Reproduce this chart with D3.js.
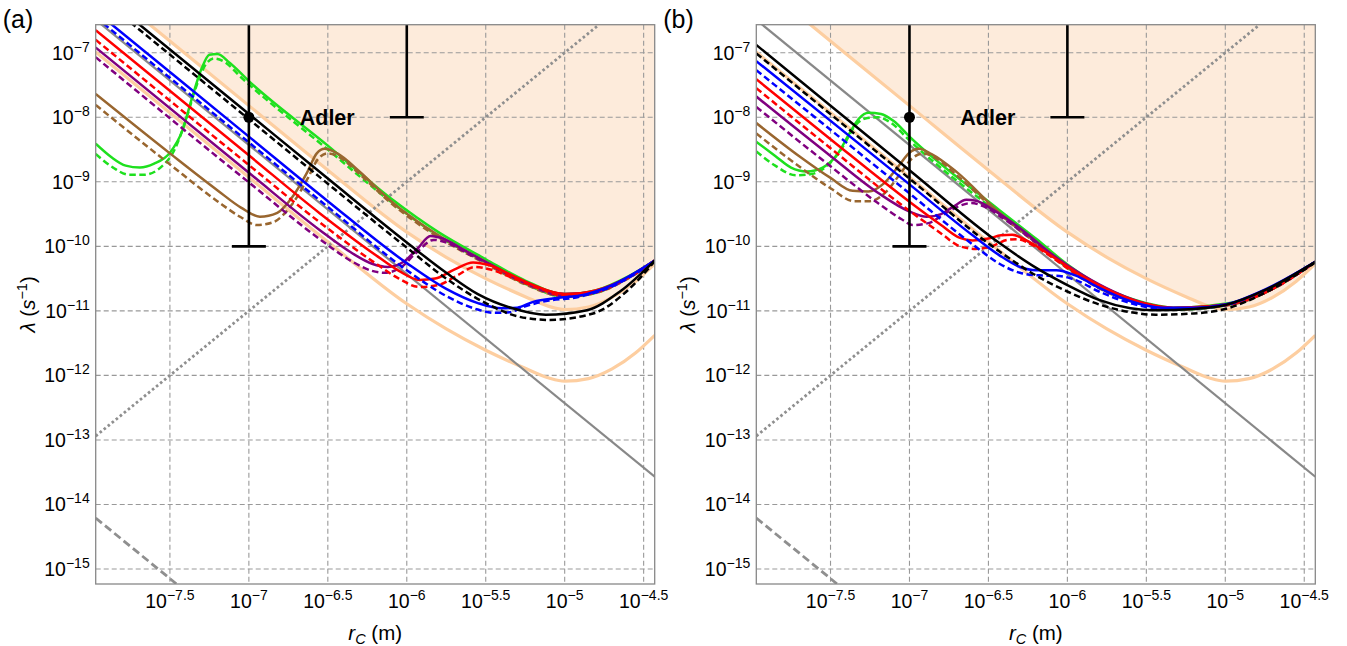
<!DOCTYPE html>
<html>
<head>
<meta charset="utf-8">
<script src="https://cdn.jsdelivr.net/npm/d3@7"></script>
<style>
  body { margin: 0; background: #fff; }
  text { font-family: "Liberation Sans", Arial, sans-serif; }
</style>
</head>
<body>
<script>
// all values are exponents: [log10 rC, log10 lambda]
var xTicks = [-7.5, -7, -6.5, -6, -5.5, -5, -4.5];
var yTicks = [-15, -14, -13, -12, -11, -10, -9, -8, -7];
var xDomain = [-7.97, -4.43];
var yDomain = [-15.232, -6.566];

// bounds shared by both panels
var orangeUpper = [[-7.66,-6.5],[-7,-7.82],[-6.5,-8.82],[-6,-9.78],[-5.75,-10.17],[-5.5,-10.5],[-5.25,-10.78],[-5.1,-10.93],[-5,-10.98],[-4.85,-10.94],[-4.7,-10.79],[-4.55,-10.54],[-4.43,-10.27]];
var orangeLower = [[-7.97,-6.99],[-7,-8.93],[-6.5,-9.93],[-6,-10.89],[-5.75,-11.28],[-5.5,-11.61],[-5.25,-11.89],[-5.1,-12.04],[-5,-12.09],[-4.85,-12.05],[-4.7,-11.9],[-4.55,-11.65],[-4.43,-11.38]];
var grayLine = [[-7.97,-6.49],[-4.43,-13.57]];
var grayDotted = [[-7.97,-12.94],[-4.783,-6.566]];
var grayDashed = [[-7.97,-14.21],[-7.458,-15.232]];
var adlerPoint = [-7, -8];
var adlerBars = [[-7, -10], [-6, -8]];

// panel (a)
var blackA = [[-7.75,-6.45],[-7,-7.95],[-6.5,-8.95],[-6,-9.94],[-5.75,-10.41],[-5.55,-10.74],[-5.33,-10.96],[-5.12,-11.06],[-4.86,-10.99],[-4.65,-10.7],[-4.43,-10.22]];
var blackDashA = [[-7.75,-6.53],[-7,-8.03],[-6.5,-9.03],[-6,-10.02],[-5.75,-10.5],[-5.5,-10.88],[-5.29,-11.09],[-5.1,-11.14],[-4.82,-11.04],[-4.6,-10.68],[-4.43,-10.23]];
var blueA = [[-7.9,-6.5],[-7,-8.3],[-6.5,-9.3],[-6,-10.26],[-5.75,-10.66],[-5.55,-10.88],[-5.4,-10.96],[-5.3,-10.95],[-5.2,-10.86],[-5.05,-10.8],[-4.9,-10.76],[-4.7,-10.6],[-4.43,-10.22]];
var blueDashA = [[-7.97,-6.45],[-7,-8.39],[-6.5,-9.39],[-6,-10.37],[-5.75,-10.77],[-5.55,-10.98],[-5.45,-11.03],[-5.35,-11.02],[-5.25,-10.93],[-5.1,-10.84],[-4.95,-10.8],[-4.7,-10.62],[-4.43,-10.23]];
var redA = [[-7.97,-6.65],[-7,-8.59],[-6.55,-9.49],[-6.2,-10.13],[-6.05,-10.38],[-5.92,-10.52],[-5.82,-10.5],[-5.7,-10.36],[-5.58,-10.25],[-5.48,-10.29],[-5.35,-10.43],[-5.2,-10.6],[-5,-10.74],[-4.8,-10.68],[-4.6,-10.48],[-4.43,-10.22]];
var redDashA = [[-7.97,-6.8],[-7,-8.74],[-6.55,-9.63],[-6.2,-10.26],[-6.05,-10.5],[-5.92,-10.63],[-5.8,-10.6],[-5.68,-10.45],[-5.57,-10.32],[-5.47,-10.36],[-5.32,-10.5],[-5.15,-10.66],[-5,-10.77],[-4.8,-10.71],[-4.6,-10.49],[-4.43,-10.23]];
var purpleA = [[-7.97,-6.92],[-7,-8.86],[-6.55,-9.75],[-6.35,-10.1],[-6.22,-10.27],[-6.12,-10.32],[-6.02,-10.24],[-5.93,-10.03],[-5.85,-9.84],[-5.77,-9.88],[-5.65,-10.04],[-5.5,-10.24],[-5.25,-10.55],[-5,-10.74],[-4.8,-10.69],[-4.6,-10.48],[-4.43,-10.22]];
var purpleDashA = [[-7.97,-7.07],[-7,-9.01],[-6.55,-9.89],[-6.35,-10.23],[-6.22,-10.38],[-6.14,-10.41],[-6.04,-10.33],[-5.94,-10.1],[-5.83,-9.9],[-5.74,-9.95],[-5.6,-10.13],[-5.45,-10.32],[-5.25,-10.57],[-5,-10.77],[-4.8,-10.71],[-4.6,-10.49],[-4.43,-10.23]];
var brownA = [[-7.97,-7.64],[-7.5,-8.56],[-7.2,-9.13],[-7.05,-9.4],[-6.93,-9.54],[-6.82,-9.48],[-6.72,-9.22],[-6.63,-8.85],[-6.57,-8.56],[-6.52,-8.49],[-6.44,-8.56],[-6.3,-8.84],[-6.1,-9.3],[-5.8,-9.83],[-5.5,-10.24],[-5.25,-10.57],[-5,-10.76],[-4.8,-10.7],[-4.6,-10.49],[-4.43,-10.22]];
var brownDashA = [[-7.97,-7.81],[-7.5,-8.73],[-7.2,-9.3],[-7.05,-9.55],[-6.95,-9.67],[-6.85,-9.63],[-6.73,-9.36],[-6.63,-8.96],[-6.56,-8.64],[-6.5,-8.56],[-6.42,-8.63],[-6.3,-8.88],[-6.1,-9.33],[-5.8,-9.86],[-5.5,-10.27],[-5.25,-10.59],[-5,-10.78],[-4.8,-10.72],[-4.6,-10.5],[-4.43,-10.23]];
var greenA = [[-7.97,-8.41],[-7.87,-8.62],[-7.78,-8.75],[-7.69,-8.78],[-7.6,-8.72],[-7.5,-8.55],[-7.42,-8.2],[-7.36,-7.7],[-7.3,-7.25],[-7.25,-7.03],[-7.2,-7.02],[-7.12,-7.16],[-7,-7.44],[-6.5,-8.44],[-6.1,-9.26],[-5.8,-9.78],[-5.5,-10.2],[-5.25,-10.53],[-5,-10.74],[-4.8,-10.68],[-4.6,-10.47],[-4.43,-10.22]];
var greenDashA = [[-7.97,-8.57],[-7.86,-8.78],[-7.76,-8.89],[-7.66,-8.89],[-7.56,-8.78],[-7.47,-8.5],[-7.4,-8.05],[-7.33,-7.5],[-7.27,-7.17],[-7.22,-7.09],[-7.15,-7.15],[-7.05,-7.38],[-6.5,-8.5],[-6.1,-9.31],[-5.8,-9.84],[-5.5,-10.25],[-5.25,-10.58],[-5,-10.78],[-4.8,-10.72],[-4.6,-10.49],[-4.43,-10.23]];

// panel (b)
var blackB = [[-7.97,-6.88],[-7,-8.82],[-6.43,-9.95],[-6.2,-10.33],[-6,-10.6],[-5.8,-10.83],[-5.6,-10.96],[-5.45,-10.99],[-5.2,-10.97],[-5,-10.91],[-4.75,-10.68],[-4.43,-10.24]];
var blackDashB = [[-7.97,-7.01],[-7,-8.95],[-6.43,-10.08],[-6.2,-10.45],[-6,-10.7],[-5.8,-10.9],[-5.6,-11.02],[-5.44,-11.06],[-5.2,-11.04],[-5,-10.97],[-4.75,-10.72],[-4.43,-10.25]];
var blueB = [[-7.97,-7.13],[-7,-9.04],[-6.6,-9.83],[-6.43,-10.14],[-6.3,-10.32],[-6.2,-10.37],[-6.07,-10.37],[-5.95,-10.45],[-5.8,-10.64],[-5.6,-10.85],[-5.4,-10.95],[-5.2,-10.95],[-5,-10.9],[-4.75,-10.67],[-4.43,-10.24]];
var blueDashB = [[-7.97,-7.27],[-7,-9.18],[-6.6,-9.97],[-6.43,-10.27],[-6.3,-10.41],[-6.18,-10.45],[-6.05,-10.46],[-5.95,-10.52],[-5.8,-10.7],[-5.6,-10.88],[-5.4,-10.97],[-5.2,-10.96],[-5,-10.91],[-4.75,-10.68],[-4.43,-10.24]];
var redB = [[-7.97,-7.41],[-7.5,-8.34],[-7,-9.31],[-6.8,-9.67],[-6.68,-9.87],[-6.6,-9.91],[-6.5,-9.88],[-6.42,-9.83],[-6.35,-9.82],[-6.25,-9.92],[-6.1,-10.15],[-5.9,-10.47],[-5.7,-10.72],[-5.5,-10.89],[-5.33,-10.95],[-5.1,-10.93],[-4.9,-10.85],[-4.7,-10.65],[-4.43,-10.24]];
var redDashB = [[-7.97,-7.55],[-7.5,-8.48],[-7,-9.45],[-6.8,-9.8],[-6.68,-10],[-6.58,-10.04],[-6.48,-10],[-6.38,-9.9],[-6.32,-9.89],[-6.22,-9.98],[-6.08,-10.2],[-5.9,-10.5],[-5.7,-10.74],[-5.5,-10.9],[-5.33,-10.97],[-5.1,-10.94],[-4.9,-10.86],[-4.7,-10.66],[-4.43,-10.24]];
var purpleB = [[-7.97,-7.68],[-7.5,-8.6],[-7.2,-9.17],[-7,-9.46],[-6.89,-9.54],[-6.8,-9.5],[-6.72,-9.38],[-6.64,-9.28],[-6.57,-9.3],[-6.48,-9.42],[-6.3,-9.72],[-6.1,-10.12],[-5.9,-10.45],[-5.7,-10.71],[-5.5,-10.89],[-5.33,-10.96],[-5.1,-10.93],[-4.9,-10.85],[-4.7,-10.65],[-4.43,-10.24]];
var purpleDashB = [[-7.97,-7.84],[-7.5,-8.76],[-7.2,-9.33],[-7.05,-9.58],[-6.98,-9.67],[-6.88,-9.64],[-6.78,-9.5],[-6.68,-9.37],[-6.61,-9.33],[-6.53,-9.38],[-6.4,-9.58],[-6.2,-9.94],[-6,-10.32],[-5.75,-10.7],[-5.5,-10.9],[-5.33,-10.97],[-5.1,-10.94],[-4.9,-10.86],[-4.7,-10.66],[-4.43,-10.24]];
var brownB = [[-7.97,-8.09],[-7.7,-8.6],[-7.5,-8.94],[-7.36,-9.14],[-7.26,-9.15],[-7.16,-9.02],[-7.07,-8.76],[-7,-8.55],[-6.94,-8.49],[-6.86,-8.57],[-6.7,-8.85],[-6.43,-9.48],[-6.2,-9.92],[-6,-10.32],[-5.75,-10.7],[-5.5,-10.9],[-5.33,-10.97],[-5.1,-10.94],[-4.9,-10.86],[-4.7,-10.66],[-4.43,-10.24]];
var brownDashB = [[-7.97,-8.25],[-7.7,-8.76],[-7.5,-9.1],[-7.35,-9.3],[-7.25,-9.3],[-7.15,-9.16],[-7.06,-8.88],[-6.98,-8.63],[-6.91,-8.56],[-6.83,-8.64],[-6.7,-8.9],[-6.43,-9.5],[-6.2,-9.95],[-6,-10.34],[-5.75,-10.71],[-5.5,-10.91],[-5.33,-10.98],[-5.1,-10.95],[-4.9,-10.87],[-4.7,-10.66],[-4.43,-10.24]];
var greenB = [[-7.97,-8.38],[-7.85,-8.6],[-7.75,-8.78],[-7.65,-8.84],[-7.55,-8.78],[-7.45,-8.55],[-7.38,-8.25],[-7.32,-8.02],[-7.26,-7.93],[-7.18,-7.95],[-7.1,-8.06],[-7,-8.3],[-6.43,-9.44],[-6.2,-9.88],[-6,-10.28],[-5.75,-10.66],[-5.5,-10.88],[-5.33,-10.95],[-5.1,-10.92],[-4.9,-10.84],[-4.7,-10.64],[-4.43,-10.24]];
var greenDashB = [[-7.97,-8.53],[-7.85,-8.75],[-7.72,-8.9],[-7.62,-8.88],[-7.52,-8.75],[-7.42,-8.45],[-7.35,-8.15],[-7.28,-8.02],[-7.2,-8],[-7.12,-8.08],[-7,-8.36],[-6.43,-9.5],[-6.2,-9.93],[-6,-10.33],[-5.75,-10.7],[-5.5,-10.91],[-5.33,-10.98],[-5.1,-10.95],[-4.9,-10.86],[-4.7,-10.66],[-4.43,-10.24]];

var colors = {green: "#1ee01e", brown: "#99662f", purple: "#800080", red: "#ff0000", blue: "#0000ff", black: "#000000"};

var panels = [
  {label: "(a)", left: 95.7, curves: [
    [greenA, "green", false], [greenDashA, "green", true],
    [brownA, "brown", false], [brownDashA, "brown", true],
    [purpleA, "purple", false], [purpleDashA, "purple", true],
    [redA, "red", false], [redDashA, "red", true],
    [blueA, "blue", false], [blueDashA, "blue", true],
    [blackA, "black", false], [blackDashA, "black", true]]},
  {label: "(b)", left: 756.3, curves: [
    [greenB, "green", false], [greenDashB, "green", true],
    [brownB, "brown", false], [brownDashB, "brown", true],
    [purpleB, "purple", false], [purpleDashB, "purple", true],
    [redB, "red", false], [redDashB, "red", true],
    [blueB, "blue", false], [blueDashB, "blue", true],
    [blackB, "black", false], [blackDashB, "black", true]]}
];

var W = 1347, H = 646, plotW = 559, plotTop = 24.7, plotBottom = 584;
var p10 = function(e){ return Math.pow(10, e); };

var svg = d3.select("body").append("svg").attr("width", W).attr("height", H);

panels.forEach(function(p, pi){
  var x = d3.scaleLog().domain(xDomain.map(p10)).range([p.left, p.left + plotW]);
  var y = d3.scaleLog().domain(yDomain.map(p10)).range([plotBottom, plotTop]);
  var g = svg.append("g");

  g.append("clipPath").attr("id", "clip" + pi)
    .append("rect").attr("x", p.left).attr("y", plotTop).attr("width", plotW).attr("height", plotBottom - plotTop);
  var plot = g.append("g").attr("clip-path", "url(#clip" + pi + ")");

  var line = d3.line()
      .x(function(d){ return x(p10(d[0])); })
      .y(function(d){ return y(p10(d[1])); })
      .curve(d3.curveMonotoneX);

  // excluded region above the upper bound
  var area = d3.area()
      .x(function(d){ return x(p10(d[0])); })
      .y0(plotTop - 5)
      .y1(function(d){ return y(p10(d[1])); })
      .curve(d3.curveMonotoneX);
  plot.append("path").attr("d", area(orangeUpper)).attr("fill", "#fdebdb");

  // grid
  xTicks.forEach(function(t){
    plot.append("line").attr("x1", x(p10(t))).attr("x2", x(p10(t)))
      .attr("y1", plotTop).attr("y2", plotBottom)
      .attr("stroke", "#999").attr("stroke-width", 1.1).attr("stroke-dasharray", "5,3");
  });
  yTicks.forEach(function(t){
    plot.append("line").attr("y1", y(p10(t))).attr("y2", y(p10(t)))
      .attr("x1", p.left).attr("x2", p.left + plotW)
      .attr("stroke", "#999").attr("stroke-width", 1.1).attr("stroke-dasharray", "5,3");
  });

  // experimental bounds
  [orangeUpper, orangeLower].forEach(function(c){
    plot.append("path").attr("d", line(c)).attr("fill", "none")
      .attr("stroke", "#fdcea0").attr("stroke-width", 3.2);
  });
  plot.append("path").attr("d", line(grayLine)).attr("fill", "none")
    .attr("stroke", "#888").attr("stroke-width", 2.2);
  plot.append("path").attr("d", line(grayDotted)).attr("fill", "none")
    .attr("stroke", "#8f8f8f").attr("stroke-width", 2.8).attr("stroke-dasharray", "2.6,2.6");
  plot.append("path").attr("d", line(grayDashed)).attr("fill", "none")
    .attr("stroke", "#8f8f8f").attr("stroke-width", 2.8).attr("stroke-dasharray", "8,4");

  // model curves
  p.curves.forEach(function(c){
    plot.append("path").attr("d", line(c[0])).attr("fill", "none")
      .attr("stroke", colors[c[1]]).attr("stroke-width", 2.5)
      .attr("stroke-dasharray", c[2] ? "6.5,3.5" : null);
  });

  // Adler bars
  adlerBars.forEach(function(b){
    var bx = x(p10(b[0])), by = y(p10(b[1]));
    plot.append("line").attr("x1", bx).attr("x2", bx).attr("y1", plotTop).attr("y2", by)
      .attr("stroke", "#000").attr("stroke-width", 2.6);
    plot.append("line").attr("x1", bx - 17).attr("x2", bx + 17).attr("y1", by).attr("y2", by)
      .attr("stroke", "#000").attr("stroke-width", 2.6);
  });
  plot.append("circle").attr("cx", x(p10(adlerPoint[0]))).attr("cy", y(p10(adlerPoint[1])))
    .attr("r", 5.5).attr("fill", "#000");
  plot.append("text").attr("x", x(p10(-6.678))).attr("y", y(p10(-8)) + 7.5)
    .attr("font-size", 21.5).attr("font-weight", "bold").text("Adler");

  // frame
  g.append("rect").attr("x", p.left).attr("y", plotTop).attr("width", plotW).attr("height", plotBottom - plotTop)
    .attr("fill", "none").attr("stroke", "#888").attr("stroke-width", 1.3);

  // tick labels
  xTicks.forEach(function(t){
    var tx = g.append("text").attr("x", x(p10(t))).attr("y", 608).attr("text-anchor", "middle").attr("font-size", 19.5);
    tx.append("tspan").text("10");
    tx.append("tspan").attr("dy", -8).attr("font-size", 14).text("\u2212" + String(-t));
  });
  yTicks.forEach(function(t){
    var ty = g.append("text").attr("x", p.left - 6).attr("y", y(p10(t)) + 7).attr("text-anchor", "end").attr("font-size", 19.5);
    ty.append("tspan").text("10");
    ty.append("tspan").attr("dy", -8).attr("font-size", 14).text("\u2212" + String(-t));
  });

  // axis titles
  var xt = g.append("text").attr("x", p.left + plotW / 2).attr("y", 640).attr("text-anchor", "middle").attr("font-size", 20.5);
  xt.append("tspan").attr("font-style", "italic").text("r");
  xt.append("tspan").attr("font-style", "italic").attr("font-size", 14.5).attr("dy", 4).text("C");
  xt.append("tspan").attr("dy", -4).text(" (m)");

  var yt = g.append("text").attr("transform", "translate(" + (p.left - 61) + "," + ((plotTop + plotBottom) / 2) + ") rotate(-90)")
    .attr("text-anchor", "middle").attr("font-size", 20.5);
  yt.append("tspan").attr("font-style", "italic").text("\u03bb");
  yt.append("tspan").text(" (");
  yt.append("tspan").attr("font-style", "italic").text("s");
  yt.append("tspan").attr("dy", -8).attr("font-size", 14.5).text("\u22121");
  yt.append("tspan").attr("dy", 8).text(")");

  g.append("text").attr("x", p.left - 93).attr("y", 28).attr("font-size", 25).text(p.label);
});
</script>
</body>
</html>
